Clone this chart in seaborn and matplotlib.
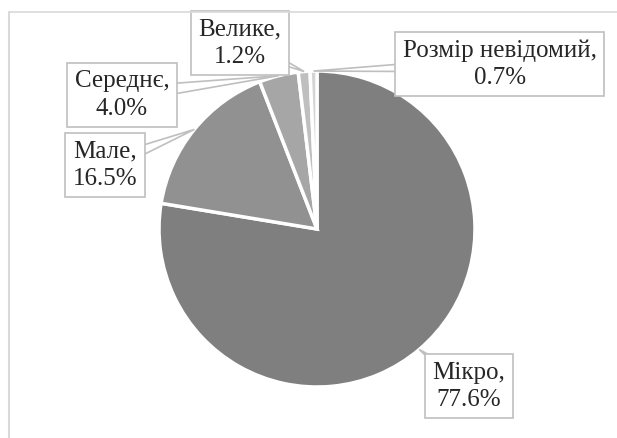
import numpy as np
import matplotlib
matplotlib.use("Agg")
import matplotlib.pyplot as plt
from matplotlib.patches import Polygon
from matplotlib.lines import Line2D
import seaborn as sns

# Enterprise size structure, share of total (%)
categories = ["Мікро", "Мале", "Середнє", "Велике", "Розмір невідомий"]
shares = [77.6, 16.5, 4.0, 1.2, 0.7]
slice_colors = ["#7f7f7f", "#919191", "#a6a6a6", "#bfbfbf", "#d4d4d4"]
# callout box centres, in units of pie radius
label_positions = [(0.962, -0.994), (-1.342, 0.405), (-1.234, 0.848),
                   (-0.487, 1.177), (1.158, 1.044)]

sns.set_theme(style="white")
plt.rcParams["font.family"] = ["Liberation Serif", "DejaVu Serif"]

W, H, DPI = 617, 438, 100
fig = plt.figure(figsize=(W / DPI, H / DPI), dpi=DPI)
ax = fig.add_axes([0, 0, 1, 1])

wedges, _ = ax.pie(shares, colors=slice_colors, startangle=90,
                   counterclock=False, radius=1.0,
                   wedgeprops=dict(edgecolor="white", linewidth=2.5))

cx, cy, R = 317, 229, 158
ax.set_xlim(-cx / R, (W - cx) / R)
ax.set_ylim(-(H - cy) / R, cy / R)
ax.set_aspect("equal")
ax.axis("off")

edge = "#bfbfbf"
for w, cat, val, (bx, by) in zip(wedges, categories, shares, label_positions):
    ang = np.deg2rad((w.theta1 + w.theta2) / 2)
    tx, ty = np.cos(ang), np.sin(ang)
    d = np.array([bx - tx, by - ty])
    d /= np.hypot(*d)
    perp = np.array([-d[1], d[0]]) * 0.05
    ax.add_patch(Polygon([(tx, ty), (bx + perp[0], by + perp[1]),
                          (bx - perp[0], by - perp[1])], closed=True,
                         facecolor="white", edgecolor=edge, lw=1.2, zorder=3))
    ax.text(bx, by, f"{cat},\n{val:.1f}%", ha="center", va="center",
            fontsize=18, linespacing=1.3, zorder=4,
            bbox=dict(boxstyle="square,pad=0.3", fc="white", ec=edge, lw=1.2))

# chart area frame
fig.add_artist(Line2D([9 / W, 1], [1 - 12 / H, 1 - 12 / H], color="#d9d9d9", lw=1.2))
fig.add_artist(Line2D([9 / W, 9 / W], [0, 1 - 12 / H], color="#d9d9d9", lw=1.5))

fig.savefig("out.png", dpi=DPI, facecolor="white")
